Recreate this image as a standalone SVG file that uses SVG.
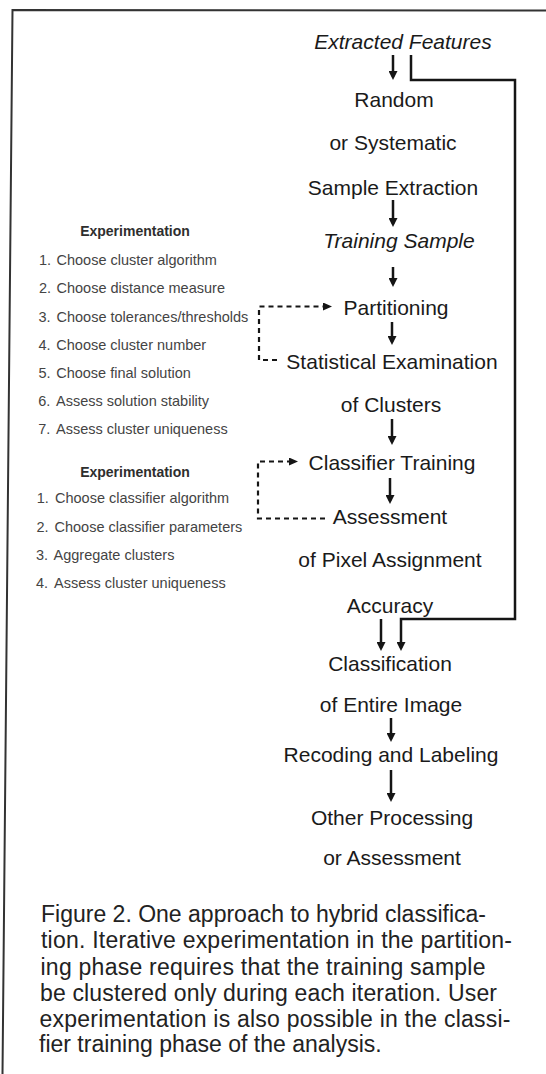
<svg xmlns="http://www.w3.org/2000/svg" width="546" height="1074" viewBox="0 0 546 1074">
  <style>
    .main { font-family: "Liberation Sans", Arial, sans-serif; font-size: 21px; fill: #1a1a1a; text-anchor: middle; }
    .it { font-style: italic; }
    .head { font-family: "Liberation Sans", Arial, sans-serif; font-size: 14px; font-weight: bold; fill: #2e2e2e; text-anchor: middle; }
    .item { font-family: "Liberation Sans", Arial, sans-serif; font-size: 14.5px; fill: #444; }
    .cap { font-family: "Liberation Sans", Arial, sans-serif; font-size: 23px; fill: #222; }
    .solid { fill: none; stroke: #151515; stroke-width: 2.5; }
    .dash { fill: none; stroke: #151515; stroke-width: 2.2; stroke-dasharray: 5 4; }
    .frame { fill: none; stroke: #333; stroke-width: 2; }
  </style>
  <defs>
    <marker id="ah" markerUnits="userSpaceOnUse" markerWidth="9" markerHeight="9" viewBox="0 0 9 9" refX="6" refY="4.5" orient="auto">
      <path d="M0,0 L9,4.5 L0,9 z" fill="#151515"/>
    </marker>
    <marker id="ahd" markerUnits="userSpaceOnUse" markerWidth="9" markerHeight="8" viewBox="0 0 9 8" refX="6" refY="4" orient="auto">
      <path d="M0,0 L9,4 L0,8 z" fill="#151515"/>
    </marker>
  </defs>
  <rect width="546" height="1074" fill="#ffffff"/>
  <path class="frame" d="M546,10.5 L12.5,10 L2.5,1074"/>

  <g id="n-extracted"><text class="main it" x="403" y="49">Extracted Features</text></g>
  <g id="n-sample"><text class="main" x="394" y="107">Random</text><text class="main" x="393" y="150">or Systematic</text><text class="main" x="393" y="195">Sample Extraction</text></g>
  <g id="n-training"><text class="main it" x="399" y="248">Training Sample</text></g>
  <g id="n-partitioning"><text class="main" x="396" y="315">Partitioning</text></g>
  <g id="n-stat"><text class="main" x="392" y="369">Statistical Examination</text><text class="main" x="391" y="412">of Clusters</text></g>
  <g id="n-classtrain"><text class="main" x="392" y="470">Classifier Training</text></g>
  <g id="n-assess"><text class="main" x="390" y="524">Assessment</text><text class="main" x="390" y="567">of Pixel Assignment</text><text class="main" x="390" y="613">Accuracy</text></g>
  <g id="n-classification"><text class="main" x="390" y="671">Classification</text><text class="main" x="391" y="712">of Entire Image</text></g>
  <g id="n-recoding"><text class="main" x="391" y="762">Recoding and Labeling</text></g>
  <g id="n-other"><text class="main" x="392" y="825">Other Processing</text><text class="main" x="392" y="865">or Assessment</text></g>

  <g id="exp1">
    <text class="head" x="135" y="236">Experimentation</text>
    <text class="item" x="39" y="265">1.<tspan x="56.5">Choose cluster algorithm</tspan></text>
    <text class="item" x="39" y="293">2.<tspan x="56.5">Choose distance measure</tspan></text>
    <text class="item" x="38.5" y="322">3.<tspan x="56.5">Choose tolerances/thresholds</tspan></text>
    <text class="item" x="38.5" y="350">4.<tspan x="56.3">Choose cluster number</tspan></text>
    <text class="item" x="38.5" y="378">5.<tspan x="56.2">Choose final solution</tspan></text>
    <text class="item" x="38.3" y="406">6.<tspan x="56">Assess solution stability</tspan></text>
    <text class="item" x="38.3" y="434">7.<tspan x="56">Assess cluster uniqueness</tspan></text>
  </g>
  <g id="exp2">
    <text class="head" x="135" y="477">Experimentation</text>
    <text class="item" x="36.7" y="503">1.<tspan x="55">Choose classifier algorithm</tspan></text>
    <text class="item" x="36.5" y="532">2.<tspan x="54.5">Choose classifier parameters</tspan></text>
    <text class="item" x="36" y="560">3.<tspan x="53.5">Aggregate clusters</tspan></text>
    <text class="item" x="36" y="588">4.<tspan x="54">Assess cluster uniqueness</tspan></text>
  </g>

  <g id="connectors">
    <line class="solid" x1="393" y1="55" x2="393" y2="77" marker-end="url(#ah)"/>
    <line class="solid" x1="393" y1="200" x2="393" y2="224" marker-end="url(#ah)"/>
    <line class="solid" x1="393" y1="267" x2="393" y2="284" marker-end="url(#ah)"/>
    <line class="solid" x1="392" y1="322" x2="392" y2="342" marker-end="url(#ah)"/>
    <line class="solid" x1="392" y1="419" x2="392" y2="442" marker-end="url(#ah)"/>
    <line class="solid" x1="390" y1="478" x2="390" y2="501" marker-end="url(#ah)"/>
    <line class="solid" x1="381" y1="619" x2="381" y2="648" marker-end="url(#ah)"/>
    <line class="solid" x1="391" y1="718" x2="391" y2="739" marker-end="url(#ah)"/>
    <line class="solid" x1="391" y1="770" x2="391" y2="799" marker-end="url(#ah)"/>
    <path class="solid" d="M411,55 L411,80 L515,80 L515,619 L401,619 L401,648" marker-end="url(#ah)"/>
    <path class="dash" d="M277,360 L259,360 L259,306.5 L329,306.5" marker-end="url(#ahd)"/>
    <path class="dash" d="M325,518.5 L258,518.5 L258,461.5 L295,461.5" marker-end="url(#ahd)"/>
  </g>

  <g id="caption">
    <text class="cap" x="41" y="922" textLength="445" lengthAdjust="spacing">Figure 2. One approach to hybrid classifica-</text>
    <text class="cap" x="41" y="948" textLength="471" lengthAdjust="spacing">tion. Iterative experimentation in the partition-</text>
    <text class="cap" x="40.5" y="975" textLength="445" lengthAdjust="spacing">ing phase requires that the training sample</text>
    <text class="cap" x="40" y="1001" textLength="457" lengthAdjust="spacing">be clustered only during each iteration. User</text>
    <text class="cap" x="39.5" y="1027" textLength="471" lengthAdjust="spacing">experimentation is also possible in the classi-</text>
    <text class="cap" x="39" y="1052">fier training phase of the analysis.</text>
  </g>
</svg>
